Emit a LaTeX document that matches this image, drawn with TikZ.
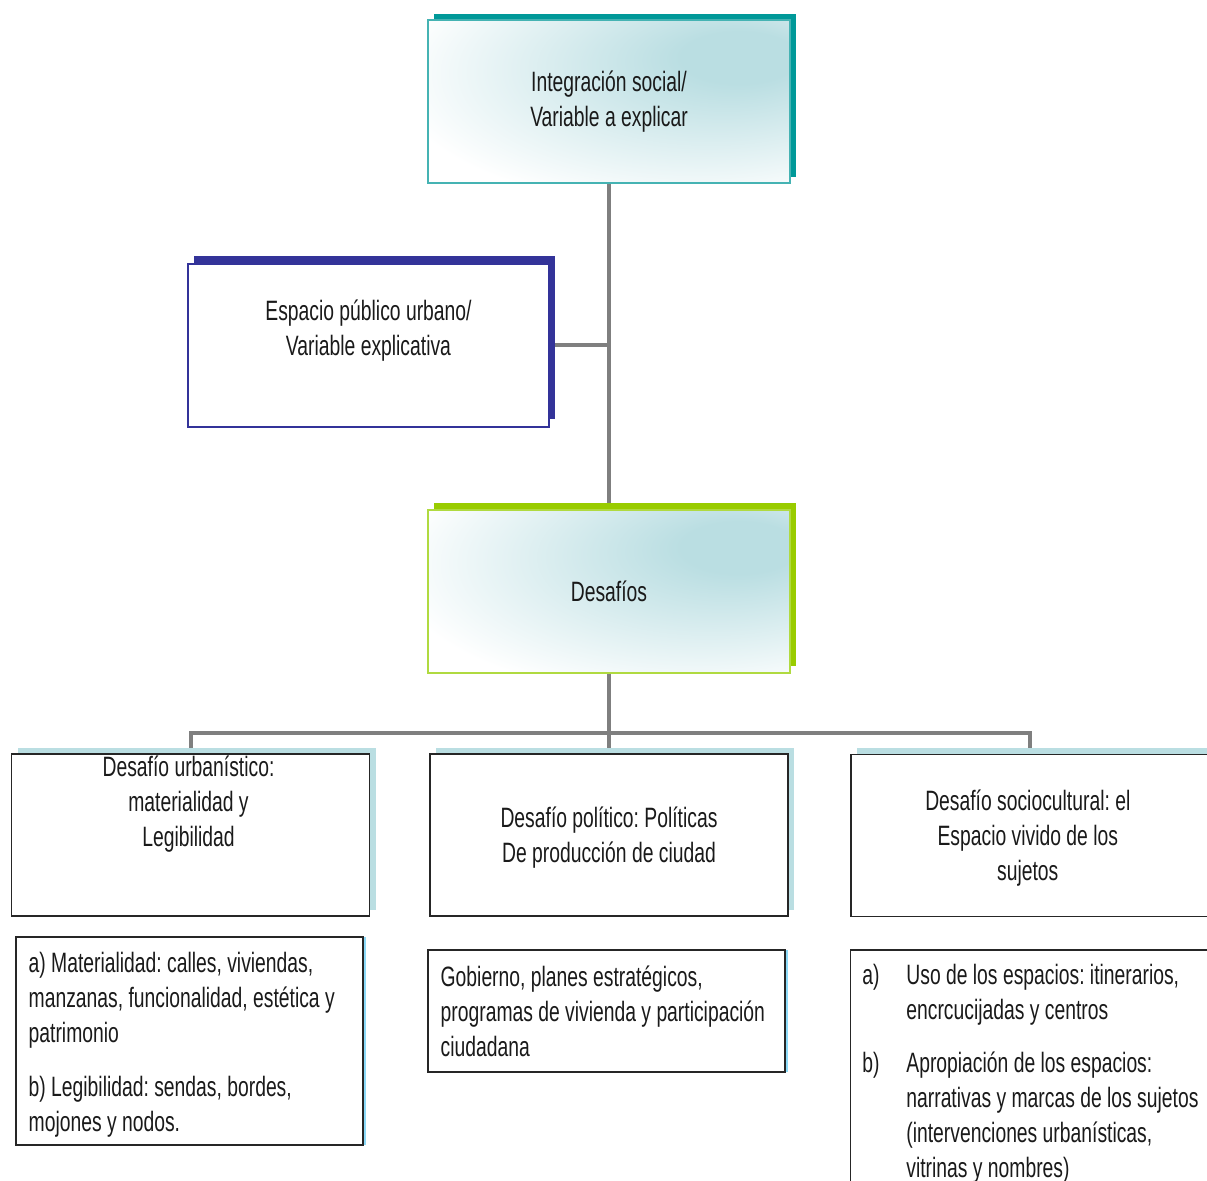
\documentclass[tikz,border=0pt]{standalone}
\usepackage{fontspec}
\setmainfont[FakeStretch=0.69]{Liberation Sans}
\usetikzlibrary{calc}
\usetikzlibrary{backgrounds}
\usetikzlibrary{shadows}

\definecolor{tealshade}{HTML}{009999}
\definecolor{tealline}{HTML}{45B3B3}
\definecolor{navyshade}{HTML}{333399}
\definecolor{limeshade}{HTML}{99CC00}
\definecolor{limeline}{HTML}{B0DA40}
\definecolor{paleteal}{HTML}{BADEE2}
\definecolor{linkgray}{HTML}{7F7F7F}
\definecolor{inkgray}{HTML}{1A1A1A}

\pgfdeclareradialshading{tealglow}{\pgfpoint{20bp}{15bp}}{%
    color(0bp)=(paleteal); color(8bp)=(paleteal); color(40bp)=(white); color(80bp)=(white)}

\newcommand{\diagfont}{\fontsize{14pt}{17.5pt}\selectfont\frenchspacing}

\tikzset{
    every node/.style={font=\diagfont, text=inkgray},
    headbox/.style={minimum width=181pt, minimum height=81.5pt, align=center,
        line width=0.7pt, shading=tealglow},
    topbox/.style={headbox, draw=tealline,
        general shadow={fill=tealshade, shadow xshift=3.2pt, shadow yshift=3.2pt}},
    varbox/.style={draw=navyshade, fill=white, line width=0.7pt,
        minimum width=180.5pt, minimum height=81.5pt,
        general shadow={fill=navyshade, shadow xshift=3.2pt, shadow yshift=3.8pt}},
    midbox/.style={headbox, draw=limeline,
        general shadow={fill=limeshade, shadow xshift=3.2pt, shadow yshift=3.5pt}},
    challenge/.style={draw=black!85, fill=white, line width=0.8pt,
        minimum width=179pt, minimum height=81pt, align=center,
        general shadow={fill=paleteal, shadow xshift=3pt, shadow yshift=3pt}},
    detail/.style={draw=black!85, fill=white, line width=0.7pt,
        general shadow={fill=cyan!45, shadow xshift=1.3pt}},
    detailtxt/.style={anchor=west, align=flush left, inner sep=0pt},
    link/.style={draw=linkgray, line width=2pt}
}

\begin{document}
\begin{tikzpicture}[x=0.5pt, y=-0.5pt]
    \useasboundingbox (0,0) rectangle (1207,1181);
    \clip (0,0) rectangle (1207,1181);

    % upper part
    \node[topbox] (social) at (609,101.5) {Integración social/\\Variable a explicar};
    \node[varbox] (espacio) at (368.5,345.5) {};
    \node (espaciotxt) at ([yshift=7.5pt]espacio.center) [align=center]
        {Espacio público urbano/\\Variable explicativa};
    \node[midbox] (desafios) at (609,591.5) {Desafíos};

    % the three challenges
    \node[challenge] (urbano) at (190.5,835) {};
    \node (urbanotxt) at ([xshift=-1pt, yshift=15.5pt]urbano.center) [align=center]
        {Desafío urbanístico:\\materialidad y\\Legibilidad};
    \node[challenge] (politico) at (609,835) {};
    \node (politicotxt) at ([yshift=-1.5pt]politico.center) [align=center]
        {Desafío político: Políticas\\De producción de ciudad};
    \node[challenge, anchor=west] (cultural) at (850,835.5) {};
    \node (culturaltxt) at ([xshift=-1pt, yshift=-1.5pt]cultural.center) [align=center]
        {Desafío sociocultural: el\\Espacio vivido de los\\sujetos};

    % contents
    \node[detail, minimum width=173.5pt, minimum height=104pt] (urbanodet) at (189.5,1041) {};
    \node[detailtxt] (urbanodettxt) at ([xshift=6.5pt, yshift=-2pt]urbanodet.west)
        {a) Materialidad: calles, viviendas,\\
         manzanas, funcionalidad, estética y\\
         patrimonio\\[9.5pt]
         b) Legibilidad: sendas, bordes,\\
         mojones y nodos.};
    \node[detail, minimum width=178.5pt, minimum height=61pt] (politicodet) at (606.5,1011) {};
    \node[detailtxt] (politicodettxt) at ([xshift=6.5pt]politicodet.west)
        {Gobierno, planes estratégicos,\\
         programas de vivienda y participación\\
         ciudadana};
    \node[detail, anchor=west, minimum width=181pt, minimum height=121pt] (culturaldet) at (850,1071) {};
    \node[detailtxt] (culturaldettxt) at ([xshift=6pt, yshift=-1.5pt]culturaldet.west)
        {\begin{tabular}{@{}p{22pt}@{}l@{}}
         a) & Uso de los espacios: itinerarios,\\
            & encrcucijadas y centros\\[9pt]
         b) & Apropiación de los espacios:\\
            & narrativas y marcas de los sujetos\\
            & (intervenciones urbanísticas,\\
            & vitrinas y nombres)
         \end{tabular}};

    \begin{scope}[on background layer]
        \draw[link] (social.south) -- (desafios.north);
        \draw[link] (espacio.east) -- (espacio.east -| social.south);
        \coordinate (fork) at ($(desafios.south)+(0,59)$);
        \draw[link] (desafios.south) -- (politico.north);
        \draw[link] (urbano.north) |- (fork) -| (cultural.north);
    \end{scope}
\end{tikzpicture}
\end{document}
